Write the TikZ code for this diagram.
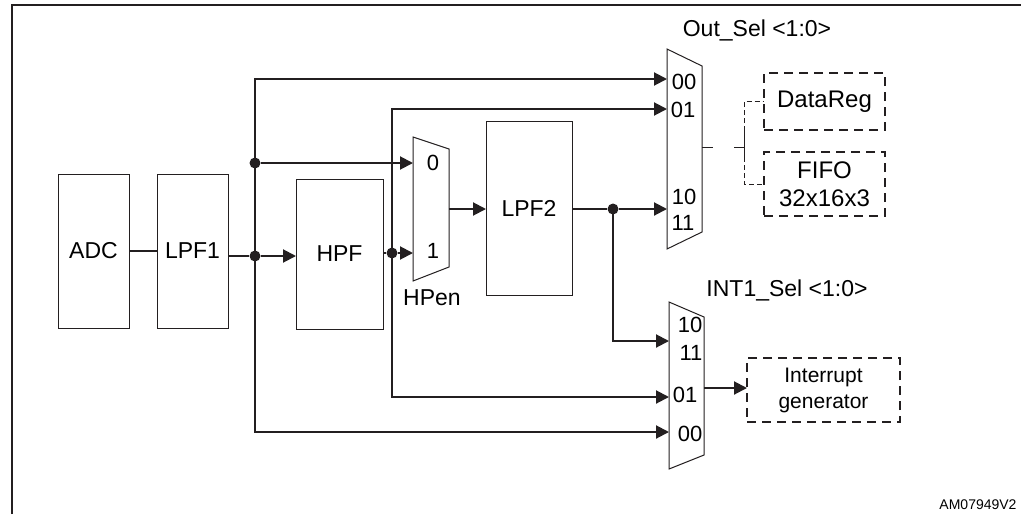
\documentclass[tikz,border=0pt]{standalone}
\usepackage{fontspec}
\setmainfont{Liberation Sans}
\usetikzlibrary{positioning,arrows.meta,calc}
\definecolor{ink}{HTML}{231F20}

\begin{document}
\begin{tikzpicture}[x=0.5pt,y=-0.5pt,
  font=\fontsize{11.5}{13}\selectfont,
  box/.style={draw=ink,line width=0.5pt,inner sep=0pt,outer sep=0pt,align=center},
  dbox/.style={box,line width=0.9pt,dash pattern=on 4.5pt off 3pt},
  mux/.style={draw=ink,line width=0.5pt},
  w/.style={draw=ink,line width=1pt},
  a/.style={w,-{Triangle[length=6.5pt,width=6.5pt]}},
  dl/.style={draw=ink,line width=0.5pt,dash pattern=on 2.5pt off 1.5pt},
  dot/.style={circle,fill=ink,inner sep=0pt,minimum size=5.5pt},
  port/.style={inner sep=0pt,font=\fontsize{11}{12}\selectfont}]
\useasboundingbox (0,0) rectangle (1021,514);
\draw[ink,line width=1.2pt] (12,514) -- (12,5) -- (1021,5);
% filter chain
\node[box,minimum width=35.5pt,minimum height=77pt] (adc) at (93.5,251) {ADC};
\node[box,minimum width=35.5pt,minimum height=77pt,right=14pt of adc] (lpf1) {LPF1};
\node[box,minimum width=43.5pt,minimum height=75pt] (hpf) at (339.5,254) {HPF};
\node[box,minimum width=43pt,minimum height=87pt] (lpf2) at (529,208) {LPF2};
\node[dbox,minimum width=60.5pt,minimum height=28.5pt,font=\fontsize{12}{14}\selectfont] (dreg) at (824.5,101.5) {DataReg};
\node[dbox,minimum width=60.5pt,minimum height=32pt,font=\fontsize{12}{14}\selectfont,below=11pt of dreg] (fifo) {FIFO\\32x16x3};
\node[dbox,minimum width=76.5pt,minimum height=32pt,font=\fontsize{10.5}{13}\selectfont] (igen) at (823.5,390) {Interrupt\\generator};
% muxes
\draw[mux] (413,137) -- (449,149) -- (449,267) -- (413,281) -- cycle;
\draw[mux] (667,49) -- (702,66) -- (702,232) -- (667,249) -- cycle;
\draw[mux] (669,302) -- (704,317) -- (704,455) -- (669,469) -- cycle;
\coordinate (h0) at (413,163); \coordinate (h1) at (413,253); \coordinate (hout) at (449,209);
\coordinate (o00) at (667,79); \coordinate (o01) at (667,109); \coordinate (o10) at (667,209);
\coordinate (oout) at (702,147);
\coordinate (i10) at (669,341); \coordinate (i01) at (669,397); \coordinate (i00) at (669,432);
\coordinate (iout) at (704,388);
\node[port] (p0) at (433,163) {0};
\node[port] (p1) at (433,251) {1};
\node[port] (q00) at (684,82) {00};
\node[port] (q01) at (683,110) {01};
\node[port] (q10) at (684,197) {10};
\node[port] (q11) at (683,223) {11};
\node[port] (r10) at (690,325) {10};
\node[port] (r11) at (691,353) {11};
\node[port] (r01) at (685,395) {01};
\node[port] (r00) at (690,434) {00};
\node (hpen) at (432,298) {HPen};
\node (osel) at (757,30) {Out\_Sel <1:0>};
\node (isel) at (787,290) {INT1\_Sel <1:0>};
\node[font=\fontsize{7}{8}\selectfont] (code) at (978,505) {AM07949V2};
% wiring
\coordinate (bt) at (255,79); \coordinate (bb) at (255,432);
\coordinate (ht) at (392,109); \coordinate (hb) at (392,397);
\node[dot] (j1) at (255,256) {};
\node[dot] (j2) at (255,163) {};
\node[dot] (j3) at (392,253) {};
\node[dot] (j4) at (613,209) {};
\draw[w] (adc.east) -- (lpf1.west);
\draw[w] (lpf1.east |- j1) -- (j1);
\draw[a] (j1) -- (hpf.west |- j1);
\draw[a] (bb) |- (o00);
\draw[a] (bt) |- (i00);
\draw[a] (j2) -- (h0);
\draw[w] (hpf.east |- j3) -- (j3);
\draw[a] (j3) -- (h1);
\draw[a] (hb) |- (o01);
\draw[a] (ht) |- (i01);
\draw[a] (hout) -- (lpf2.west |- hout);
\draw[w] (lpf2.east |- j4) -- (j4);
\draw[a] (j4) -- (o10);
\draw[a] (j4.center) |- (i10);
\draw[a] (iout) -- (igen.west |- iout);
% out_sel to storage
\coordinate (g1) at (713,147); \coordinate (g2) at (734,147); \coordinate (sp) at (744,147);
\coordinate (s1) at (744,131); \coordinate (s2) at (744,157);
\draw[mux] (oout) -- (g1);
\draw[mux] (g2) -- (sp);
\draw[mux] (s1) -- (s2);
\draw[dl] (s1) |- (dreg.west);
\draw[dl] (s2) |- (fifo.west);
\end{tikzpicture}
\end{document}
